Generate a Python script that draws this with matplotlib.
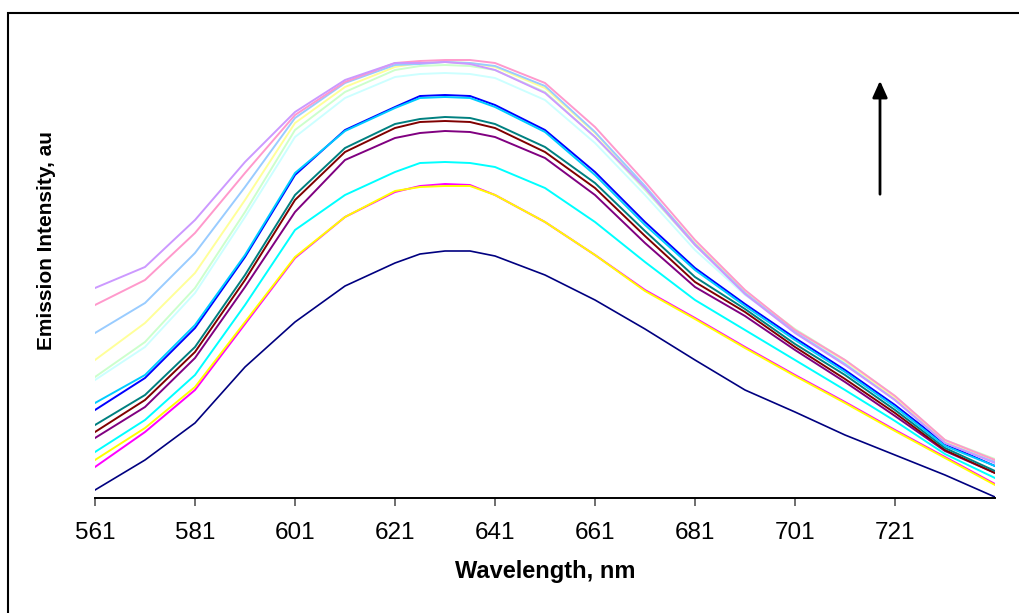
import matplotlib
matplotlib.use("Agg")
import matplotlib.pyplot as plt
from matplotlib.patches import Rectangle

plt.rcParams['font.family'] = ['Liberation Sans', 'DejaVu Sans']

wavelength = [561, 571, 581, 591, 601, 611, 621, 626, 631, 636, 641, 651,
              661, 671, 681, 691, 701, 711, 721, 731, 741]

# emission spectra (arbitrary units), lowest to highest
navy = [8, 38, 75, 131, 176, 212, 235, 244, 247, 247, 242, 223, 198, 169, 138, 108, 86, 63, 43, 23, 1]
magenta = [31, 66, 108, 174, 240, 281, 306, 312, 314, 313, 303, 276, 243, 208, 180, 151, 123, 96, 68, 41, 14]
yellow = [38, 70, 111, 176, 241, 281, 307, 311, 312, 312, 303, 276, 243, 207, 179, 150, 122, 95, 67, 40, 13]
cyan = [46, 78, 123, 193, 268, 303, 326, 335, 336, 335, 331, 310, 276, 236, 198, 168, 138, 108, 77, 44, 20]
purple = [60, 91, 140, 211, 286, 338, 360, 365, 367, 366, 361, 340, 303, 255, 211, 182, 148, 116, 82, 47, 25]
maroon = [66, 98, 146, 218, 298, 346, 370, 376, 377, 376, 370, 346, 310, 262, 216, 186, 151, 119, 85, 48, 25]
teal = [73, 103, 151, 223, 303, 350, 374, 379, 381, 380, 374, 351, 315, 267, 221, 189, 154, 123, 88, 50, 27]
blue = [88, 120, 170, 241, 323, 368, 391, 402, 403, 402, 393, 368, 326, 276, 230, 194, 160, 128, 93, 54, 32]
skyblue = [95, 123, 173, 243, 325, 367, 390, 400, 401, 400, 391, 366, 323, 273, 228, 192, 158, 126, 91, 52, 32]
lightturq = [118, 151, 205, 281, 361, 400, 421, 424, 425, 424, 420, 398, 355, 303, 248, 203, 168, 136, 100, 57, 38]
lightgreen = [121, 156, 210, 286, 368, 406, 428, 432, 433, 432, 428, 406, 361, 308, 253, 206, 169, 138, 102, 58, 39]
lightyellow = [138, 175, 225, 298, 375, 411, 431, 435, 436, 435, 431, 410, 365, 311, 255, 207, 168, 137, 100, 56, 38]
paleblue = [165, 195, 245, 311, 380, 415, 433, 434, 436, 435, 432, 412, 366, 312, 254, 205, 166, 134, 98, 55, 36]
rose = [193, 218, 265, 325, 383, 416, 435, 437, 438, 438, 435, 415, 371, 316, 258, 208, 168, 138, 102, 58, 38]
lavender = [210, 231, 278, 336, 386, 418, 435, 435, 436, 434, 428, 405, 361, 310, 253, 204, 165, 133, 98, 55, 35]

series = [navy, magenta, yellow, cyan, purple, maroon, teal, blue, skyblue,
          lightturq, lightgreen, lightyellow, paleblue, rose, lavender]
colors = ['#000080', '#FF00FF', '#FFFF00', '#00FFFF', '#800080', '#800000',
          '#008080', '#0000FF', '#00CCFF', '#CCFFFF', '#CCFFCC', '#FFFF99',
          '#99CCFF', '#FF99CC', '#CC99FF']

tick_pos = [561, 581, 601, 621, 641, 661, 681, 701, 721]

W, H = 1020, 613
fig = plt.figure(figsize=(W / 100, H / 100), dpi=100)
ax = fig.add_axes([95 / W, 1 - 498 / H, 900 / W, 468 / H])

for ys, c in zip(series, colors):
    lw = 1.2 if c == '#000080' else 1.4
    ax.plot(wavelength, ys, color=c, lw=lw, solid_joinstyle='round')

ax.set_xlim(561, 741)
ax.set_ylim(0, 468)
ax.set_yticks([])
ax.set_xticks(tick_pos)
ax.set_xticklabels([str(t) for t in tick_pos], fontsize=17.5)
ax.tick_params(axis='x', direction='out', length=6, width=1.2, color='#555555', pad=11)
for s in ['top', 'right', 'left']:
    ax.spines[s].set_visible(False)
ax.spines['bottom'].set_linewidth(1.4)

ax.set_xlabel("Wavelength, nm", fontsize=17, fontweight='bold', labelpad=12)
fig.text(47 / W, 1 - 241 / H, "Emission Intensity, au", rotation=90,
         fontsize=15, fontweight='bold', ha='center', va='center')

# arrow showing increasing intensity
ax.annotate("", xy=(718, 420), xytext=(718, 301),
            arrowprops=dict(arrowstyle='-|>,head_width=0.45,head_length=1.0',
                            color='black', lw=2))

# outer chart frame
fig.patches.append(Rectangle((8 / W, -0.1), 1.2, 1 - 13 / H + 0.1,
                             transform=fig.transFigure, fill=False,
                             edgecolor='black', lw=1.5))

fig.savefig("out.png", dpi=100)
